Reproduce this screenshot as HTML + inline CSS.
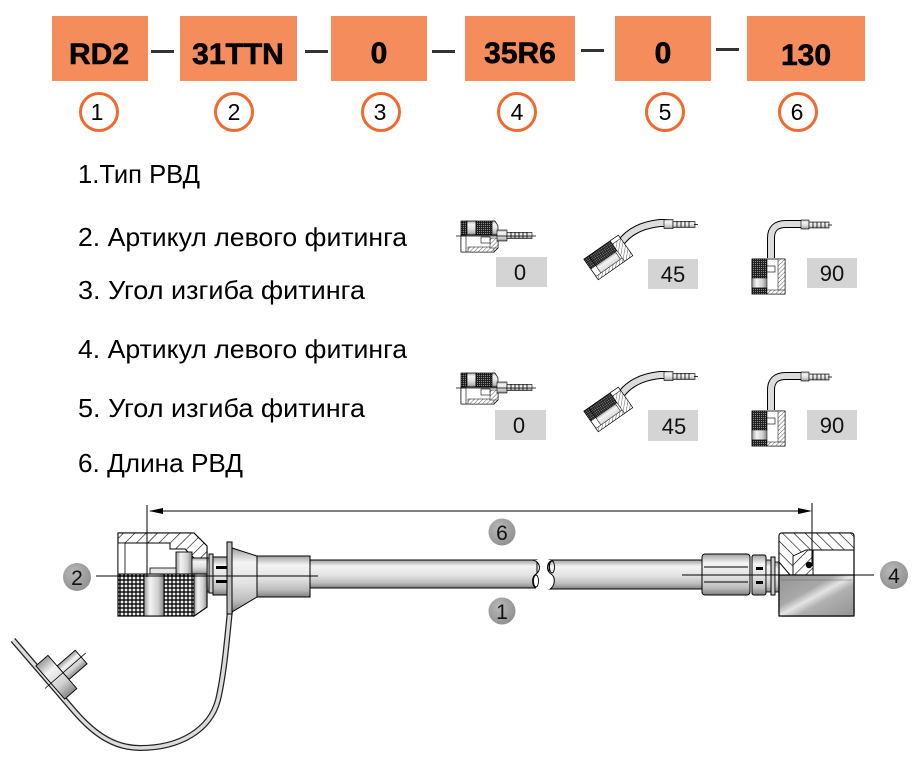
<!DOCTYPE html>
<html><head><meta charset="utf-8"><style>
html,body{margin:0;padding:0;background:#fff;}
svg{display:block;}
text{font-family:"Liberation Sans","DejaVu Sans",sans-serif;}
</style></head><body>
<svg width="919" height="757" viewBox="0 0 919 757" xmlns="http://www.w3.org/2000/svg">
<defs>
<pattern id="k" width="4" height="4" patternUnits="userSpaceOnUse"><rect width="4" height="4" fill="#1c1c1c"/><circle cx="2" cy="2" r="1.4" fill="#ececec"/></pattern>
<pattern id="ks" width="2" height="2" patternUnits="userSpaceOnUse"><rect width="2" height="2" fill="#222"/><rect x="1" y="1" width="1" height="1" fill="#888"/></pattern>
<pattern id="h" width="8" height="8" patternUnits="userSpaceOnUse" patternTransform="rotate(45)"><rect width="8" height="8" fill="#fff"/><line x1="0" y1="0" x2="0" y2="8" stroke="#000" stroke-width="1.2"/></pattern>
<pattern id="h2" width="8" height="8" patternUnits="userSpaceOnUse" patternTransform="rotate(-45)"><rect width="8" height="8" fill="#fff"/><line x1="0" y1="0" x2="0" y2="8" stroke="#000" stroke-width="1.2"/></pattern>
<pattern id="hs" width="3" height="3" patternUnits="userSpaceOnUse" patternTransform="rotate(45)"><rect width="3" height="3" fill="#fff"/><line x1="0" y1="0" x2="0" y2="3" stroke="#333" stroke-width="0.8"/></pattern>
<linearGradient id="cyl" x1="0" y1="0" x2="0" y2="1">
<stop offset="0" stop-color="#a0a0a0"/><stop offset="0.22" stop-color="#f4f4f4"/><stop offset="0.55" stop-color="#e2e2e2"/><stop offset="0.82" stop-color="#bdbdbd"/><stop offset="1" stop-color="#808080"/>
</linearGradient>
<linearGradient id="cylh" x1="0" y1="0" x2="1" y2="0">
<stop offset="0" stop-color="#9a9a9a"/><stop offset="0.3" stop-color="#f3f3f3"/><stop offset="0.7" stop-color="#d0d0d0"/><stop offset="1" stop-color="#888"/>
</linearGradient>
<linearGradient id="nutg" x1="0" y1="0" x2="1" y2="1">
<stop offset="0" stop-color="#959595"/><stop offset="0.38" stop-color="#a8a8a8"/><stop offset="0.5" stop-color="#e4e4e4"/><stop offset="0.62" stop-color="#b0b0b0"/><stop offset="1" stop-color="#939393"/>
</linearGradient>
<radialGradient id="gc" cx="0.4" cy="0.35" r="0.7"><stop offset="0" stop-color="#b8b8b8"/><stop offset="1" stop-color="#8f8f8f"/></radialGradient>

<g id="f0">
<rect x="461" y="221" width="6" height="14" fill="url(#ks)" stroke="#000" stroke-width="0.7"/>
<rect x="467" y="221" width="9" height="14" fill="url(#cyl)" stroke="#000" stroke-width="0.7"/>
<rect x="476" y="221" width="16" height="14" fill="url(#ks)" stroke="#000" stroke-width="0.7"/>
<polygon points="492,221 495,221 498,226 498,235 492,235" fill="url(#cyl)" stroke="#000" stroke-width="0.7"/>
<polygon points="461,235 498,235 498,248 494,252 461,252" fill="#fff" stroke="#000" stroke-width="0.8"/>
<rect x="468" y="247" width="26" height="5" fill="url(#hs)" stroke="#000" stroke-width="0.5"/>
<rect x="490" y="238" width="8" height="10" fill="url(#hs)" stroke="#000" stroke-width="0.5"/>
<rect x="481" y="237" width="9" height="6" fill="#fff" stroke="#000" stroke-width="0.6"/>
<rect x="461" y="236" width="5" height="16" fill="#fff" stroke="#000" stroke-width="0.6"/>
<rect x="497" y="230" width="10" height="11" fill="url(#cyl)" stroke="#000" stroke-width="0.6"/>
<rect x="507" y="232.5" width="25" height="6" fill="url(#cyl)" stroke="#000" stroke-width="0.6"/>
<path d="M511 232v6M515 232v6M519 232v6M523 232v6M527 232v6" stroke="#000" stroke-width="0.8"/>
<line x1="456" y1="236" x2="536" y2="236" stroke="#000" stroke-width="0.8"/>
</g>
<g id="f45">
<path d="M620 244 Q632 226 660 223 L667 223" fill="none" stroke="#000" stroke-width="8"/>
<path d="M620 244 Q632 226 660 223 L667 223" fill="none" stroke="#dcdcdc" stroke-width="6"/>
<rect x="664" y="219.5" width="9" height="9" fill="url(#cyl)" stroke="#000" stroke-width="0.6"/>
<rect x="673" y="221.5" width="22" height="6" fill="url(#cyl)" stroke="#000" stroke-width="0.6"/>
<path d="M677 221v6M681 221v6M685 221v6M689 221v6" stroke="#000" stroke-width="0.8"/>
<line x1="694" y1="224.5" x2="698" y2="224.5" stroke="#000" stroke-width="0.8"/>
<g transform="translate(608,257) rotate(-35)">
<rect x="-21" y="-12" width="42" height="25" fill="#fff" stroke="#000" stroke-width="0.8"/>
<rect x="-15" y="-12" width="26" height="12" fill="url(#ks)" stroke="#000" stroke-width="0.6"/>
<rect x="-21" y="-12" width="6" height="12" fill="url(#ks)" stroke="#000" stroke-width="0.6"/>
<rect x="-15" y="0" width="24" height="13" fill="url(#cyl)" stroke="#000" stroke-width="0.5"/>
<rect x="11" y="-8" width="10" height="21" fill="url(#hs)" stroke="#000" stroke-width="0.5"/>
<rect x="-21" y="9" width="32" height="4" fill="url(#hs)" stroke="#000" stroke-width="0.5"/>
</g>
</g>
<g id="f90">
<path d="M771 258 L771 238 Q771 224 786 224 L803 224" fill="none" stroke="#000" stroke-width="8"/>
<path d="M771 258 L771 238 Q771 224 786 224 L803 224" fill="none" stroke="#dcdcdc" stroke-width="6"/>
<rect x="801" y="220" width="8" height="9" fill="url(#cyl)" stroke="#000" stroke-width="0.6"/>
<rect x="809" y="222" width="20" height="6" fill="url(#cyl)" stroke="#000" stroke-width="0.6"/>
<path d="M813 222v6M817 222v6M821 222v6M825 222v6" stroke="#000" stroke-width="0.8"/>
<line x1="828" y1="225" x2="832" y2="225" stroke="#000" stroke-width="0.8"/>
<rect x="752" y="259" width="33" height="35" fill="#fff" stroke="#000" stroke-width="0.8"/>
<rect x="752" y="259" width="15" height="19" fill="url(#ks)" stroke="#000" stroke-width="0.6"/>
<rect x="752" y="278" width="15" height="10" fill="url(#cylh)" stroke="#000" stroke-width="0.5"/>
<rect x="752" y="288" width="15" height="6" fill="url(#ks)" stroke="#000" stroke-width="0.5"/>
<rect x="778" y="259" width="7" height="35" fill="url(#hs)" stroke="#000" stroke-width="0.5"/>
<rect x="767" y="290" width="18" height="4" fill="url(#hs)" stroke="#000" stroke-width="0.5"/>
<rect x="767" y="266" width="8" height="6" fill="#fff" stroke="#000" stroke-width="0.6"/>
</g>
</defs>

<g fill="#f58c5b">
<rect x="52" y="16" width="96" height="65"/>
<rect x="180" y="16" width="117" height="65"/>
<rect x="331" y="16" width="96" height="65"/>
<rect x="465" y="16" width="110" height="65"/>
<rect x="615" y="16" width="96" height="65"/>
<rect x="747" y="16" width="118" height="65"/>
</g>
<g fill="#333">
<rect x="151" y="50" width="23" height="3"/>
<rect x="305" y="50" width="23" height="3"/>
<rect x="432" y="50" width="23" height="3"/>
<rect x="581" y="49" width="23" height="3"/>
<rect x="716" y="48" width="23" height="3"/>
</g>
<g font-size="30" font-weight="bold" fill="#000" stroke="#000" stroke-width="0.6" text-anchor="middle">
<text x="99" y="64">RD2</text>
<text x="238" y="64">31TTN</text>
<text x="379" y="63">0</text>
<text x="520" y="63">35R6</text>
<text x="663" y="63">0</text>
<text x="806" y="65">130</text>
</g>
<g fill="#fff" stroke="#ef6a2e" stroke-width="3">
<circle cx="99" cy="112" r="18.5"/>
<circle cx="234" cy="112" r="18.5"/>
<circle cx="381" cy="112" r="18.5"/>
<circle cx="517" cy="112" r="18.5"/>
<circle cx="665" cy="112" r="18.5"/>
<circle cx="798" cy="112" r="18.5"/>
</g>
<g font-size="23" fill="#000" text-anchor="middle">
<text x="97" y="120">1</text>
<text x="234" y="120">2</text>
<text x="380" y="120">3</text>
<text x="517" y="120">4</text>
<text x="665" y="120">5</text>
<text x="797" y="120">6</text>
</g>

<g font-size="26" fill="#000">
<text x="78" y="183" textLength="122" lengthAdjust="spacingAndGlyphs">1.Тип РВД</text>
<text x="78" y="246" textLength="329" lengthAdjust="spacingAndGlyphs">2. Артикул левого фитинга</text>
<text x="78" y="299" textLength="287" lengthAdjust="spacingAndGlyphs">3. Угол изгиба фитинга</text>
<text x="78" y="358" textLength="329" lengthAdjust="spacingAndGlyphs">4. Артикул левого фитинга</text>
<text x="78" y="417" textLength="287" lengthAdjust="spacingAndGlyphs">5. Угол изгиба фитинга</text>
<text x="78" y="472" textLength="165" lengthAdjust="spacingAndGlyphs">6. Длина РВД</text>
</g>

<use href="#f0"/>
<use href="#f45"/>
<use href="#f90"/>
<g transform="translate(0,152)">
<use href="#f0"/>
<use href="#f45"/>
<use href="#f90"/>
</g>
<g fill="#d4d4d4">
<rect x="496" y="257" width="51" height="30"/>
<rect x="648" y="259" width="50" height="30"/>
<rect x="807" y="258" width="50" height="30"/>
<rect x="495" y="410" width="51" height="30"/>
<rect x="648" y="410" width="50" height="31"/>
<rect x="807" y="410" width="50" height="30"/>
</g>
<g font-size="22" fill="#111" text-anchor="middle">
<text x="520" y="280">0</text>
<text x="673" y="282">45</text>
<text x="832" y="281">90</text>
<text x="519" y="433">0</text>
<text x="674" y="434">45</text>
<text x="832" y="433">90</text>
</g>

<path d="M13 640 L75 712 C95 735 115 748 140 748 C180 748 210 730 218 700 C224 675 227 640 230 610" fill="none" stroke="#222" stroke-width="6"/>
<path d="M13 640 L75 712 C95 735 115 748 140 748 C180 748 210 730 218 700 C224 675 227 640 230 610" fill="none" stroke="#dcdcdc" stroke-width="3.5"/>
<g transform="translate(57,678) rotate(49)">
<rect x="-9" y="-32" width="18" height="24" fill="url(#cylh)" stroke="#000" stroke-width="0.9"/>
<rect x="-23" y="-8" width="44" height="16" fill="url(#cylh)" stroke="#000" stroke-width="0.9"/>
<line x1="0" y1="-38" x2="0" y2="16" stroke="#000" stroke-width="0.8"/>
</g>

<rect x="305" y="560" width="232" height="28" fill="url(#cyl)" stroke="#000" stroke-width="1"/>
<path d="M533 560 C541 562 541 571 536 574 C531 577 532 586 537 589 L545 589 L545 560 Z" fill="#fff"/>
<path d="M533 560 C541 562 541 571 536 574 C531 577 532 586 536 588" fill="none" stroke="#000" stroke-width="1"/>
<ellipse cx="536" cy="581" rx="2.5" ry="6" fill="none" stroke="#000" stroke-width="0.9"/>
<rect x="549" y="560" width="160" height="29" fill="url(#cyl)" stroke="#000" stroke-width="1"/>
<path d="M553 560 C546 562 546 571 551 574 C556 577 555 586 550 589 L547 589 L547 560 Z" fill="#fff"/>
<path d="M553 560 C546 562 546 571 551 574 C556 577 555 586 550 589" fill="none" stroke="#000" stroke-width="1"/>
<ellipse cx="552" cy="567" rx="2.5" ry="6" fill="none" stroke="#000" stroke-width="0.9"/>

<rect x="257" y="556" width="53" height="41" fill="url(#cyl)" stroke="#000" stroke-width="1"/>
<polygon points="232,548 257,556 257,597 232,612" fill="url(#cyl)" stroke="#000" stroke-width="1"/>
<rect x="227" y="542" width="5" height="72" fill="#bbb" stroke="#000" stroke-width="1"/>
<rect x="213" y="557" width="14" height="38" fill="url(#cyl)" stroke="#000" stroke-width="1"/>
<rect x="216" y="566" width="11" height="3" fill="#000"/>
<rect x="216" y="580" width="11" height="3" fill="#000"/>
<rect x="209" y="554" width="4" height="39" fill="#ccc" stroke="#000" stroke-width="1"/>
<rect x="205" y="558" width="4" height="34" fill="url(#cyl)" stroke="#000" stroke-width="0.8"/>
<polygon points="118,533 194,533 207,546 207,607 194,616 118,616" fill="#fff" stroke="#000" stroke-width="1.2"/>
<path d="M118 533 L194 533 L207 546 L207 558 L194 558 L185 549 L170 549 L170 543 L118 543 Z" fill="url(#h)" stroke="#000" stroke-width="1"/>
<rect x="176" y="552" width="16" height="22" fill="url(#cylh)" stroke="#000" stroke-width="0.9"/>
<rect x="150" y="568" width="26" height="6" fill="#e6e6e6" stroke="#000" stroke-width="0.8"/>
<rect x="192" y="558" width="15" height="16" fill="url(#cyl)" stroke="#000" stroke-width="0.8"/>
<rect x="118" y="543" width="7" height="31" fill="#fff" stroke="#000" stroke-width="0.8"/>
<rect x="118" y="574" width="26" height="42" fill="url(#k)" stroke="#000" stroke-width="1"/>
<rect x="144" y="574" width="20" height="42" fill="url(#cylh)" stroke="#000" stroke-width="1"/>
<rect x="164" y="574" width="30" height="42" fill="url(#k)" stroke="#000" stroke-width="1"/>
<polygon points="194,574 207,574 207,607 194,616" fill="url(#cylh)" stroke="#000" stroke-width="1"/>

<rect x="702" y="554" width="48" height="41" rx="3" fill="url(#cyl)" stroke="#000" stroke-width="1"/>
<line x1="704" y1="567" x2="748" y2="567" stroke="#000" stroke-width="1"/>
<line x1="704" y1="582" x2="748" y2="582" stroke="#000" stroke-width="1"/>
<rect x="752" y="555" width="14" height="40" rx="2" fill="url(#cyl)" stroke="#000" stroke-width="1"/>
<rect x="756" y="567" width="7" height="3" fill="#000"/>
<rect x="756" y="581" width="7" height="3" fill="#000"/>
<rect x="766" y="560" width="5" height="32" fill="url(#cyl)" stroke="#000" stroke-width="0.8"/>
<rect x="771" y="557" width="4" height="38" fill="#ccc" stroke="#000" stroke-width="1"/>
<rect x="775" y="562" width="6" height="30" fill="url(#cyl)" stroke="#000" stroke-width="0.8"/>
<rect x="779" y="533" width="75" height="83" rx="3" fill="#fff" stroke="#000" stroke-width="1.2"/>
<path d="M779 536 Q779 533 782 533 L851 533 Q854 533 854 536 L854 550 L813 550 L813 575 L790 575 L779 562 Z" fill="url(#h2)" stroke="#000" stroke-width="1"/>
<polygon points="793,556 806,550 813,550 813,575 793,575" fill="url(#h)" stroke="#000" stroke-width="0.9"/>
<circle cx="809" cy="565" r="3.2" fill="#000"/>
<rect x="779" y="575" width="75" height="41" fill="url(#nutg)" stroke="#000" stroke-width="1.2"/>
<line x1="781" y1="580" x2="852" y2="580" stroke="#666" stroke-width="0.6"/>

<line x1="147" y1="505" x2="147" y2="577" stroke="#000" stroke-width="1"/>
<line x1="150" y1="511" x2="809" y2="511" stroke="#000" stroke-width="1"/>
<polygon points="149,511 163,508 163,514" fill="#000"/>
<polygon points="812,511 798,508 798,514" fill="#000"/>
<line x1="812" y1="503" x2="812" y2="566" stroke="#000" stroke-width="1"/>
<line x1="96" y1="576" x2="318" y2="576" stroke="#000" stroke-width="1"/>
<line x1="682" y1="575" x2="874" y2="575" stroke="#000" stroke-width="1"/>

<g fill="url(#gc)">
<circle cx="77" cy="577" r="14"/>
<circle cx="502" cy="532" r="13.5"/>
<circle cx="502" cy="611" r="13.5"/>
<circle cx="894" cy="575" r="14"/>
</g>
<g font-size="21" fill="#111" text-anchor="middle">
<text x="77" y="585">2</text>
<text x="502" y="540">6</text>
<text x="502" y="619">1</text>
<text x="894" y="583">4</text>
</g>
</svg>
</body></html>
